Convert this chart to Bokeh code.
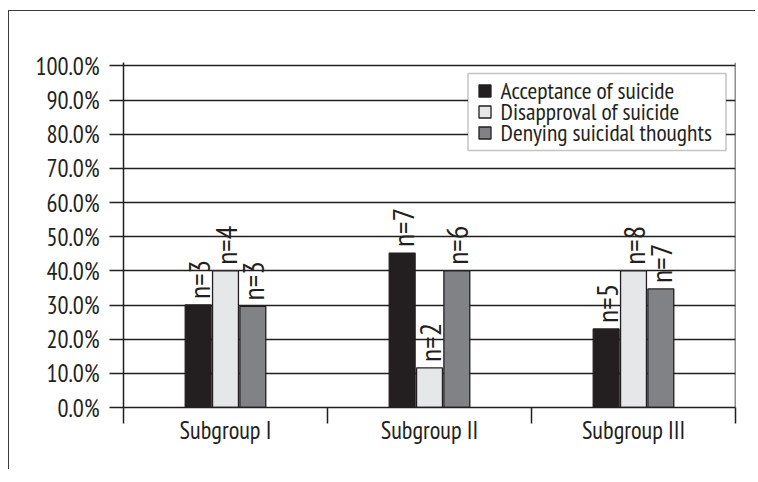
from bokeh.plotting import figure
from bokeh.models import (Range1d, FixedTicker, Span, ColumnDataSource, Legend, LegendItem,
                          BoxAnnotation)
from bokeh.transform import dodge
from bokeh.core.properties import value
from bokeh.embed import file_html
from bokeh.resources import INLINE

categories = ["Subgroup I", "Subgroup II", "Subgroup III"]
series = ["Acceptance of suicide", "Disapproval of suicide", "Denying suicidal thoughts"]
acceptance = [30.0, 45.2, 23.0]
disapproval = [40.0, 11.6, 40.0]
denying = [29.6, 40.0, 34.7]
n_acceptance = ["n=3", "n=7", "n=5"]
n_disapproval = ["n=4", "n=2", "n=8"]
n_denying = ["n=3", "n=6", "n=7"]
y_ticks = [0, 10, 20, 30, 40, 50, 60, 70, 80, 90, 100]

FONT = "PT Sans Narrow"
INK = "#231f20"
colors = ["#231f20", "#e6e7e8", "#808285"]

xc = [i + 0.5 for i in range(len(categories))]
src = ColumnDataSource(dict(x=xc, a=acceptance, d=disapproval, g=denying,
                            na=n_acceptance, nd=n_disapproval, ng=n_denying))

p = figure(frame_width=612, frame_height=345, output_backend="svg", toolbar_location=None,
           x_range=Range1d(0, len(categories)), y_range=Range1d(0, 101),
           min_border_left=114, min_border_right=20, min_border_top=51,
           min_border_bottom=62)
p.styles = {"border-left": "1.5px solid #3a3a3a", "border-top": "1.5px solid #3a3a3a",
            "margin-top": "10px", "margin-left": "8px"}
p.outline_line_color = None
p.background_fill_color = "white"
p.border_fill_color = "white"

# y axis
p.yaxis.ticker = FixedTicker(ticks=y_ticks)
p.yaxis.major_label_overrides = {t: f"{t:.1f}%" for t in y_ticks}
p.yaxis.major_tick_out = 14
p.yaxis.major_tick_in = 0
p.yaxis.minor_tick_line_color = None
p.yaxis.major_label_standoff = 10
p.yaxis.axis_line_color = INK
p.yaxis.axis_line_width = 1.5
p.yaxis.major_tick_line_color = INK
p.yaxis.major_tick_line_width = 1.5
p.yaxis.major_label_text_font = FONT
p.yaxis.major_label_text_font_size = "24.5px"
p.yaxis.major_label_text_color = INK

# x axis
p.xaxis.ticker = FixedTicker(ticks=xc, minor_ticks=list(range(len(categories) + 1)))
p.xaxis.major_label_overrides = {x: c for x, c in zip(xc, categories)}
p.xaxis.major_tick_out = 0
p.xaxis.major_tick_in = 0
p.xaxis.minor_tick_out = 16
p.xaxis.minor_tick_in = 0
p.xaxis.minor_tick_line_color = INK
p.xaxis.minor_tick_line_width = 1.5
p.xaxis.axis_line_color = INK
p.xaxis.axis_line_width = 1.5
p.xaxis.major_label_standoff = -10
p.xaxis.major_label_text_font = FONT
p.xaxis.major_label_text_font_size = "24.5px"
p.xaxis.major_label_text_color = INK

p.xgrid.grid_line_color = None
p.ygrid.grid_line_color = INK
p.ygrid.grid_line_width = 1.5

p.add_layout(Span(location=len(categories), dimension="height", line_color=INK, line_width=1.5))

offsets = [-0.134, 0.0, 0.134]
fields = ["a", "d", "g"]
nfields = ["na", "nd", "ng"]
items = []
for off, f, nf, col, name in zip(offsets, fields, nfields, colors, series):
    r = p.vbar(x=dodge("x", off, range=p.x_range), top=f, width=0.127, bottom=0,
               source=src, fill_color=col, line_color=INK, line_width=1.3)
    items.append(LegendItem(label=name, renderers=[r]))
    p.text(x=dodge("x", off, range=p.x_range), y=f, text=nf, source=src,
           angle=1.5708, text_align="left", text_baseline="middle", y_offset=-6,
           text_font=value(FONT), text_font_size="30px", text_color=INK)

# legend frame (screen units relative to the plot frame)
p.add_layout(BoxAnnotation(left=344.5, right=602.5, bottom=257, top=334,
                           left_units="screen", right_units="screen",
                           bottom_units="screen", top_units="screen",
                           fill_color="white", fill_alpha=1,
                           line_color="#3a3a3a", line_width=1.5))

# one legend per row so the rows can sit closer than the font's line box
row_y = [300.8, 279.8, 258.8]
for item, y in zip(items, row_y):
    lg = Legend(items=[item], location=(353.5, y))
    lg.label_text_font = FONT
    lg.label_text_font_size = "23.6px"
    lg.label_text_color = INK
    lg.glyph_width = 15
    lg.glyph_height = 15
    lg.label_standoff = 9
    lg.spacing = 0
    lg.padding = 0
    lg.margin = 0
    lg.label_height = 15
    lg.border_line_color = None
    lg.background_fill_alpha = 0
    p.add_layout(lg)

open("out.html", "w").write(file_html(p, INLINE))
